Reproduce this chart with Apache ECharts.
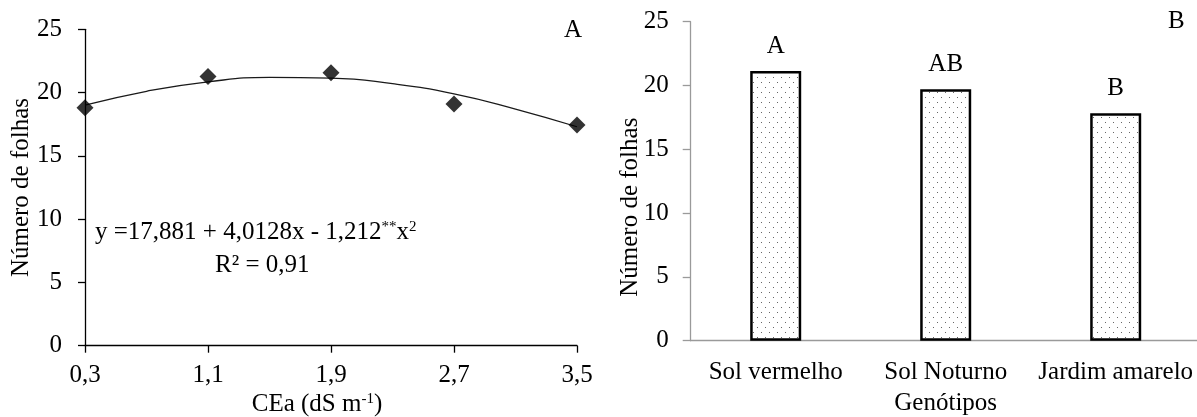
<!DOCTYPE html>
<html>
<head>
<meta charset="utf-8">
<script src="https://cdn.jsdelivr.net/npm/echarts@6/dist/echarts.min.js"></script>
<style>
  html, body { margin: 0; padding: 0; background: #fff; }
  #chart { width: 1197px; height: 417px; }
</style>
</head>
<body>
<div id="chart"></div>
<script>
// panel A: leaf number vs irrigation water salinity
const ceaLevels = [0.3, 1.1, 1.9, 2.7, 3.5]
const leafObserved = [18.8, 21.27, 21.56, 19.1, 17.43]
// fitted curve
const fitX = [0.3, 0.7, 1.1, 1.5, 1.9, 2.3, 2.7, 3.1, 3.5]
const fitY = [19.0, 20.1, 20.85, 21.2, 21.15, 20.7, 19.9, 18.7, 17.3]

// panel B: leaf number by genotype
const genotypes = ['Sol vermelho', 'Sol Noturno', 'Jardim amarelo']
const leafByGenotype = [21.13, 19.7, 17.82]
const tukeyLetters = ['A', 'AB', 'B']

const yTicks = [0, 25, 5] // min, max, step

const FONT = 'Liberation Serif'

function dotPattern() {
  const c = document.createElement('canvas')
  c.width = 8
  c.height = 10
  const ctx = c.getContext('2d')
  ctx.fillStyle = '#fff'
  ctx.fillRect(0, 0, 8, 10)
  ctx.fillStyle = '#666'
  ctx.fillRect(1, 2, 1, 1)
  ctx.fillRect(5, 7, 1, 1)
  return c
}

const chart = echarts.init(document.getElementById('chart'))

const axisText = { color: '#000', fontFamily: FONT, fontSize: 25 }
const sup = { fontFamily: FONT, fontSize: 15, verticalAlign: 'top', color: '#000' }

chart.setOption({
  animation: false,
  backgroundColor: '#fff',
  textStyle: { fontFamily: FONT, color: '#000' },
  grid: [
    { left: 85, top: 29.3, width: 492, height: 316.4, outerBoundsMode: 'none' },
    { left: 690.7, top: 21.7, width: 510, height: 319, outerBoundsMode: 'none' },
  ],
  xAxis: [
    {
      gridIndex: 0,
      type: 'value',
      min: ceaLevels[0],
      max: ceaLevels[ceaLevels.length - 1],
      interval: 0.8,
      name: 'CEa (dS m{s|-1})',
      nameLocation: 'middle',
      nameGap: 46,
      nameMoveOverlap: false,
      nameTextStyle: { ...axisText, padding: [0, 28, 0, 0], rich: { s: sup } },
      axisLine: { onZero: false, lineStyle: { color: '#000', width: 1.3 } },
      axisTick: { length: 7, lineStyle: { color: '#000', width: 1.3 } },
      axisLabel: { ...axisText, margin: 17, formatter: (v) => v.toFixed(1).replace('.', ',') },
      splitLine: { show: false },
    },
    {
      gridIndex: 1,
      type: 'category',
      data: genotypes,
      name: 'Genótipos',
      nameLocation: 'middle',
      nameGap: 50,
      nameMoveOverlap: false,
      nameTextStyle: axisText,
      axisLine: { lineStyle: { color: '#9a9a9a', width: 1.3 } },
      axisTick: { length: 8, lineStyle: { color: '#9a9a9a', width: 1.3 } },
      axisLabel: { ...axisText, margin: 19, interval: 0 },
      splitLine: { show: false },
    },
  ],
  yAxis: [
    {
      gridIndex: 0,
      type: 'value',
      min: yTicks[0],
      max: yTicks[1],
      interval: yTicks[2],
      name: 'Número de folhas',
      nameLocation: 'middle',
      nameGap: 51,
      nameMoveOverlap: false,
      nameTextStyle: axisText,
      axisLine: { show: true, onZero: false, lineStyle: { color: '#000', width: 1.3 } },
      axisTick: { show: true, length: 7, lineStyle: { color: '#000', width: 1.3 } },
      axisLabel: { ...axisText, margin: 23 },
      splitLine: { show: false },
    },
    {
      gridIndex: 1,
      type: 'value',
      min: yTicks[0],
      max: yTicks[1],
      interval: yTicks[2],
      name: 'Número de folhas',
      nameLocation: 'middle',
      nameGap: 48,
      nameMoveOverlap: false,
      nameTextStyle: { ...axisText, padding: [0, 52, 0, 0] },
      axisLine: { show: true, lineStyle: { color: '#9a9a9a', width: 1.3 } },
      axisTick: { show: true, length: 8, lineStyle: { color: '#9a9a9a', width: 1.3 } },
      axisLabel: { ...axisText, margin: 22 },
      splitLine: { show: false },
    },
  ],
  series: [
    {
      name: 'ajuste',
      type: 'line',
      xAxisIndex: 0,
      yAxisIndex: 0,
      smooth: true,
      showSymbol: false,
      data: fitX.map((x, i) => [x, fitY[i]]),
      lineStyle: { color: '#1a1a1a', width: 1.3 },
      z: 2,
    },
    {
      name: 'observado',
      type: 'scatter',
      xAxisIndex: 0,
      yAxisIndex: 0,
      symbol: 'diamond',
      symbolSize: 17,
      data: ceaLevels.map((x, i) => [x, leafObserved[i]]),
      itemStyle: { color: '#000' },
      z: 3,
    },
    {
      name: 'genotipos',
      type: 'bar',
      xAxisIndex: 1,
      yAxisIndex: 1,
      barWidth: 51,
      data: leafByGenotype,
      itemStyle: {
        color: { image: dotPattern(), repeat: 'repeat' },
        borderColor: '#000',
        borderWidth: 2.5,
      },
      label: {
        show: true,
        position: 'top',
        distance: 12,
        ...axisText,
        formatter: (p) => tukeyLetters[p.dataIndex],
      },
    },
  ],
  graphic: [
    {
      type: 'text',
      left: 95,
      top: 220,
      style: {
        text: 'y =17,881 + 4,0128x - 1,212{s|**}x{s|2}',
        font: `25px "${FONT}"`,
        fill: '#000',
        rich: { s: { fontSize: 15, fontFamily: FONT, verticalAlign: 'top', fill: '#000' } },
      },
    },
    {
      type: 'text',
      left: 215,
      top: 253,
      style: { text: 'R² = 0,91', font: `25px "${FONT}"`, fill: '#000' },
    },
    {
      type: 'text',
      left: 564,
      top: 18,
      style: { text: 'A', font: `25px "${FONT}"`, fill: '#000' },
    },
    {
      type: 'text',
      left: 1168,
      top: 9,
      style: { text: 'B', font: `25px "${FONT}"`, fill: '#000' },
    },
  ],
})
</script>
</body>
</html>
